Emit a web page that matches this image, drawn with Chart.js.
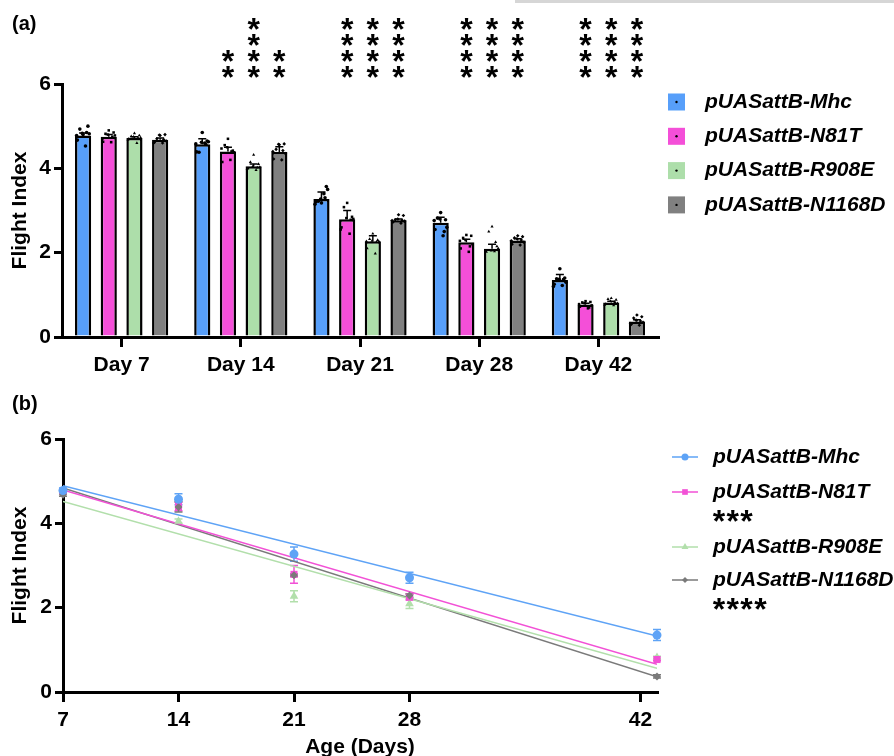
<!DOCTYPE html>
<html>
<head>
    <meta charset="utf-8">
    <title>Flight Index</title>
    <script src="https://cdn.jsdelivr.net/npm/chart.js@4.4.1/dist/chart.umd.min.js"></script>
    <style>
        body { margin: 0; background: #fff; }
        #wrap { position: relative; width: 894px; height: 756px; overflow: hidden; }
        #strip { position: absolute; left: 515px; top: 0; width: 379px; height: 3px; background: #d6d6d6; }
        canvas { position: absolute; left: 0; }
        #chartA { top: 0; }
        #chartB { top: 380px; }
    </style>
</head>
<body>
<div id="wrap">
    <div id="strip"></div>
    <canvas id="chartA" width="894" height="378"></canvas>
    <canvas id="chartB" width="894" height="380"></canvas>
</div>
<script>
    const days = ['Day 7', 'Day 14', 'Day 21', 'Day 28', 'Day 42'];
    const ages = [7, 14, 21, 28, 43];
    const ageTicks = [7, 14, 21, 28, 42];
    const genotypes = ['pUASattB-Mhc', 'pUASattB-N81T', 'pUASattB-R908E', 'pUASattB-N1168D'];

    // mean flight index
    const mhc = [4.78, 4.57, 3.27, 2.71, 1.35];
    const n81t = [4.75, 4.40, 2.79, 2.25, 0.77];
    const r908e = [4.72, 4.05, 2.27, 2.09, 0.82];
    const n1168d = [4.68, 4.39, 2.77, 2.29, 0.37];

    // SEM
    const mhcSem = [0.06, 0.13, 0.17, 0.13, 0.13];
    const n81tSem = [0.05, 0.10, 0.21, 0.07, 0.03];
    const r908eSem = [0.03, 0.05, 0.13, 0.11, 0.03];
    const n1168dSem = [0.04, 0.12, 0.03, 0.04, 0.04];

    // single vials, per day
    const mhcDots = [
        [4.83, 4.67, 5.00, 4.80, 4.53, 4.93, 4.82, 4.78, 4.85],
        [4.62, 4.39, 4.65, 4.85, 4.60, 4.38, 4.63, 4.58, 4.57],
        [3.27, 3.20, 3.57, 3.18, 3.40, 3.22, 3.50, 3.15, 3.30],
        [2.80, 2.55, 2.78, 2.95, 2.40, 2.82, 2.60, 2.76, 2.50],
        [1.37, 1.25, 1.40, 1.62, 1.22, 1.38, 1.30, 1.20, 1.36]
    ];
    const n81tDots = [
        [4.80, 4.63, 4.85, 4.90, 4.62, 4.82, 4.78, 4.70, 4.75],
        [4.50, 4.15, 4.42, 4.70, 4.20, 4.55, 4.38, 4.47, 4.40],
        [2.82, 2.60, 2.85, 3.18, 2.45, 3.08, 2.80, 2.55, 2.78],
        [2.30, 2.10, 2.40, 2.42, 2.02, 2.35, 2.20, 2.28, 2.15],
        [0.80, 0.72, 0.83, 0.85, 0.68, 0.82, 0.75, 0.78, 0.70]
    ];
    const r908eDots = [
        [4.75, 4.70, 4.78, 4.83, 4.60, 4.76, 4.73, 4.68, 4.72],
        [4.05, 4.00, 4.10, 4.32, 3.96, 4.15, 4.03, 3.98, 4.02],
        [2.28, 2.10, 2.30, 2.45, 1.98, 2.32, 2.26, 2.27, 2.25],
        [2.05, 2.02, 2.15, 2.62, 2.03, 2.50, 2.10, 2.04, 2.25],
        [0.85, 0.78, 0.88, 0.92, 0.75, 0.90, 0.80, 0.76, 0.83]
    ];
    const n1168dDots = [
        [4.79, 4.62, 4.80, 4.78, 4.60, 4.70, 4.65, 4.60, 4.68],
        [4.57, 4.22, 4.58, 4.56, 4.20, 4.45, 4.35, 4.40, 4.42],
        [2.80, 2.72, 2.88, 2.90, 2.70, 2.78, 2.75, 2.76, 2.77],
        [2.33, 2.20, 2.38, 2.40, 2.18, 2.35, 2.25, 2.28, 2.30],
        [0.40, 0.30, 0.48, 0.52, 0.28, 0.45, 0.35, 0.32, 0.38]
    ];

    // linear fits, values at fitAges
    const fitAges = [7, 43];
    const mhcFit = [4.89, 1.33];
    const n81tFit = [4.79, 0.66];
    const r908eFit = [4.52, 0.56];
    const n1168dFit = [4.84, 0.36];

    // significance marks
    const mhcStars = ['', '', '', '', ''];
    const n81tStars = ['', '**', '****', '****', '****'];
    const r908eStars = ['', '****', '****', '****', '****'];
    const n1168dStars = ['', '**', '****', '****', '****'];
    const slopeStars = ['', '***', '', '****'];

    const barColors = ['#579ffa', '#f44fd8', '#addeaa', '#808080'];
    const lineColors = ['#5ea3f6', '#f251d6', '#b2dfab', '#7a7a7a'];
    const pointStyles = ['circle', 'rect', 'triangle', 'rectRot'];
    const pointRadii = [4.5, 5, 5, 4];

    const means = [mhc, n81t, r908e, n1168d];
    const sems = [mhcSem, n81tSem, r908eSem, n1168dSem];
    const dots = [mhcDots, n81tDots, r908eDots, n1168dDots];
    const fits = [mhcFit, n81tFit, r908eFit, n1168dFit];
    const stars = [mhcStars, n81tStars, r908eStars, n1168dStars];

    const FAM = '"Liberation Sans", Arial, sans-serif';
    const f = (size, style) => (style || 'bold') + ' ' + size + 'px ' + FAM;
    const jitter = [-0.05, -0.35, 0.3, 0.0, 0.15, -0.2, 0.38, -0.4, 0.22];

    function axisY(title, width) {
        return {
            min: 0, max: 6,
            ticks: { stepSize: 2, color: '#000', font: { family: FAM, size: 21, weight: 'bold' }, padding: 3 },
            grid: { display: true, drawOnChartArea: false, tickLength: 8, color: '#000', lineWidth: 3 },
            border: { display: true, color: '#000', width: 3 },
            title: { display: true, text: title, color: '#000', font: { family: FAM, size: 21, weight: 'bold' }, padding: { top: 8, bottom: 0 } },
            afterFit(s) { s.width = width; }
        };
    }

    function starGlyph(ctx, x, y) {
        ctx.font = f(32);
        ctx.textAlign = 'center';
        ctx.textBaseline = 'alphabetic';
        const m = ctx.measureText('*');
        const off = (m.actualBoundingBoxAscent - m.actualBoundingBoxDescent) / 2;
        ctx.fillText('*', x, y + off);
    }

    function marker(ctx, style, x, y, r, color) {
        ctx.fillStyle = color;
        ctx.beginPath();
        if (style === 'circle') {
            ctx.arc(x, y, r, 0, Math.PI * 2);
        } else if (style === 'rect') {
            const s = r * Math.SQRT1_2;
            ctx.rect(x - s, y - s, 2 * s, 2 * s);
        } else if (style === 'triangle') {
            ctx.moveTo(x, y - r);
            ctx.lineTo(x + r * 0.87, y + r * 0.5);
            ctx.lineTo(x - r * 0.87, y + r * 0.5);
            ctx.closePath();
        } else {
            ctx.moveTo(x, y - r);
            ctx.lineTo(x + r, y);
            ctx.lineTo(x, y + r);
            ctx.lineTo(x - r, y);
            ctx.closePath();
        }
        ctx.fill();
    }

    // ---- panel (a) ----
    const extrasA = {
        id: 'extrasA',
        afterDatasetsDraw(chart) {
            const ctx = chart.ctx;
            const ys = chart.scales.y;
            ctx.save();
            means.forEach((series, i) => {
                const meta = chart.getDatasetMeta(i);
                meta.data.forEach((bar, j) => {
                    const x = bar.x;
                    const w = bar.width;
                    // sem
                    const yt = ys.getPixelForValue(series[j] + sems[i][j]);
                    ctx.strokeStyle = '#000';
                    ctx.lineWidth = 1.5;
                    ctx.beginPath();
                    ctx.moveTo(x, bar.y);
                    ctx.lineTo(x, yt);
                    ctx.moveTo(x - 4, yt);
                    ctx.lineTo(x + 4, yt);
                    ctx.stroke();
                    // points
                    dots[i][j].forEach((v, k) => {
                        marker(ctx, pointStyles[i], x + jitter[k] * w, ys.getPixelForValue(v), 1.8, '#000');
                    });
                });
            });
            ctx.restore();
        },
        afterDraw(chart) {
            const ctx = chart.ctx;
            const top = chart.chartArea.top;
            ctx.save();
            ctx.fillStyle = '#000';
            stars.forEach((s, i) => {
                const meta = chart.getDatasetMeta(i);
                s.forEach((txt, j) => {
                    for (let k = 0; k < txt.length; k++) {
                        starGlyph(ctx, meta.data[j].x, top - 12 - 16 * k);
                    }
                });
            });
            // legend
            genotypes.forEach((g, i) => {
                const y = 102 + i * 34.3;
                ctx.fillStyle = barColors[i];
                ctx.fillRect(668, y - 8.5, 17, 17);
                ctx.fillStyle = '#000';
                ctx.beginPath();
                ctx.arc(676.5, y, 1.2, 0, Math.PI * 2);
                ctx.fill();
                ctx.font = f(21, 'italic bold');
                ctx.textAlign = 'left';
                ctx.textBaseline = 'middle';
                ctx.fillText(g, 705, y);
            });
            ctx.font = f(20);
            ctx.textAlign = 'left';
            ctx.textBaseline = 'middle';
            ctx.fillText('(a)', 12, 24);
            ctx.restore();
        }
    };

    new Chart(document.getElementById('chartA'), {
        type: 'bar',
        data: {
            labels: days,
            datasets: genotypes.map((g, i) => ({
                label: g,
                data: means[i],
                backgroundColor: barColors[i],
                borderColor: '#000',
                borderWidth: 2.5,
                barPercentage: 0.63,
                categoryPercentage: 0.862
            }))
        },
        options: {
            responsive: false,
            animation: false,
            layout: { padding: { left: 0, top: 84, right: 236, bottom: 0 } },
            plugins: { legend: { display: false }, tooltip: { enabled: false } },
            scales: {
                x: {
                    ticks: { color: '#000', font: { family: FAM, size: 21, weight: 'bold' }, padding: 6 },
                    grid: { display: true, offset: false, drawOnChartArea: false, tickLength: 10, color: '#000', lineWidth: 3 },
                    border: { display: true, color: '#000', width: 3 },
                    afterFit(s) { s.height = 41; }
                },
                y: axisY('Flight Index', 62)
            }
        },
        plugins: [extrasA]
    });

    // ---- panel (b) ----
    const extrasB = {
        id: 'extrasB',
        beforeDatasetsDraw(chart) {
            const ctx = chart.ctx;
            const xs = chart.scales.x;
            const ys = chart.scales.y;
            ctx.save();
            ctx.lineWidth = 1.5;
            means.forEach((series, i) => {
                ctx.strokeStyle = lineColors[i];
                series.forEach((v, j) => {
                    const x = xs.getPixelForValue(ages[j]);
                    const y1 = ys.getPixelForValue(v + sems[i][j]);
                    const y2 = ys.getPixelForValue(v - sems[i][j]);
                    ctx.beginPath();
                    ctx.moveTo(x, y1);
                    ctx.lineTo(x, y2);
                    ctx.moveTo(x - 4, y1);
                    ctx.lineTo(x + 4, y1);
                    ctx.moveTo(x - 4, y2);
                    ctx.lineTo(x + 4, y2);
                    ctx.stroke();
                });
            });
            ctx.restore();
        },
        afterDraw(chart) {
            const ctx = chart.ctx;
            ctx.save();
            const rows = [77, 112, 167, 200];
            genotypes.forEach((g, i) => {
                const y = rows[i];
                ctx.strokeStyle = lineColors[i];
                ctx.lineWidth = 1.5;
                ctx.beginPath();
                ctx.moveTo(672, y);
                ctx.lineTo(698, y);
                ctx.stroke();
                marker(ctx, pointStyles[i], 685, y, pointRadii[i] - 1, lineColors[i]);
                ctx.fillStyle = '#000';
                ctx.font = f(21, 'italic bold');
                ctx.textAlign = 'left';
                ctx.textBaseline = 'middle';
                ctx.fillText(g, 713, y);
            });
            ctx.fillStyle = '#000';
            genotypes.forEach((g, i) => {
                const s = slopeStars[i];
                for (let k = 0; k < s.length; k++) {
                    starGlyph(ctx, 719 + k * 13.8, rows[i] + 24);
                }
            });
            ctx.font = f(20);
            ctx.textAlign = 'left';
            ctx.textBaseline = 'middle';
            ctx.fillText('(b)', 12, 24);
            ctx.restore();
        }
    };

    const pointSets = genotypes.map((g, i) => ({
        label: g,
        data: ages.map((a, j) => ({ x: a, y: means[i][j] })),
        showLine: false,
        clip: false,
        pointStyle: pointStyles[i],
        pointRadius: pointRadii[i],
        backgroundColor: lineColors[i],
        borderColor: lineColors[i],
        borderWidth: 0,
        order: [0, 2, 3, 1][i]
    }));
    const fitSets = genotypes.map((g, i) => ({
        label: g + ' fit',
        data: fitAges.map((a, k) => ({ x: a, y: fits[i][k] })),
        showLine: true,
        pointRadius: 0,
        borderColor: lineColors[i],
        borderWidth: 1.5,
        order: 10
    }));

    new Chart(document.getElementById('chartB'), {
        type: 'scatter',
        data: { datasets: pointSets.concat(fitSets) },
        options: {
            responsive: false,
            animation: false,
            layout: { padding: { left: 0, top: 59, right: 237, bottom: 0 } },
            plugins: { legend: { display: false }, tooltip: { enabled: false } },
            scales: {
                x: {
                    type: 'linear', min: 7, max: 43,
                    afterBuildTicks(s) { s.ticks = ageTicks.map(v => ({ value: v })); },
                    ticks: { color: '#000', font: { family: FAM, size: 21, weight: 'bold' }, padding: 6 },
                    grid: { display: true, drawOnChartArea: false, tickLength: 10, color: '#000', lineWidth: 3 },
                    border: { display: true, color: '#000', width: 3 },
                    title: { display: true, text: 'Age (Days)', color: '#000', font: { family: FAM, size: 21, weight: 'bold' }, padding: { top: 0, bottom: 0 } },
                    afterFit(s) { s.height = 68; }
                },
                y: axisY('Flight Index', 63)
            }
        },
        plugins: [extrasB]
    });
</script>
</body>
</html>
